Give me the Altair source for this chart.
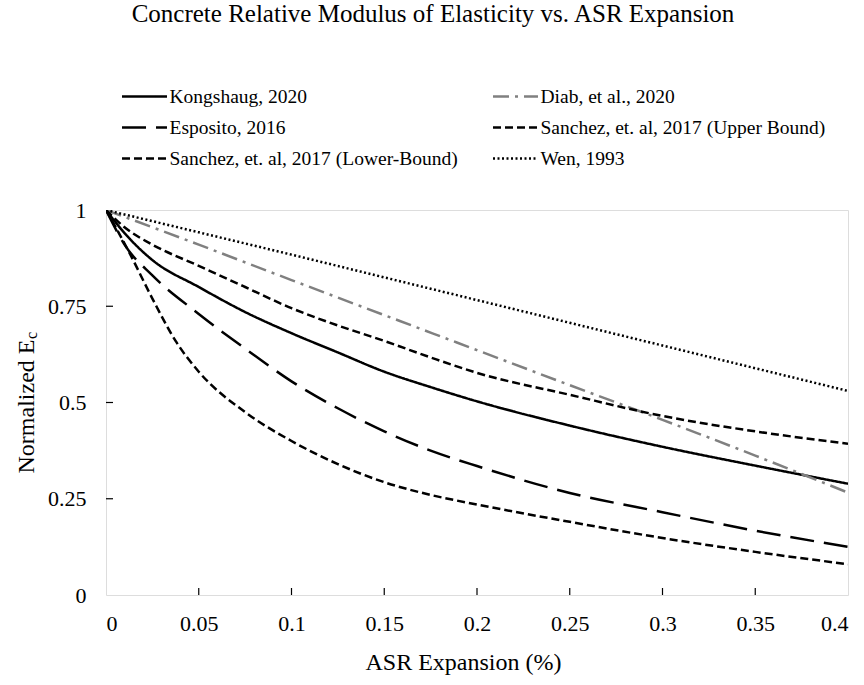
import altair as alt
import pandas as pd

# ---- data ----
kong_x = [0, 0.01, 0.025, 0.05, 0.075, 0.1, 0.125, 0.15, 0.175, 0.2, 0.25, 0.3, 0.35, 0.4]
kong_y = [1, 0.94, 0.87, 0.80, 0.735, 0.68, 0.63, 0.58, 0.54, 0.503, 0.44, 0.385, 0.336, 0.289]

diab_x = [0, 0.05, 0.1, 0.15, 0.2, 0.25, 0.3, 0.35, 0.4]
diab_y = [1, 0.91, 0.818, 0.727, 0.636, 0.545, 0.455, 0.362, 0.266]

espo_x = [0, 0.01, 0.025, 0.05, 0.075, 0.1, 0.125, 0.15, 0.175, 0.2, 0.25, 0.3, 0.35, 0.4]
espo_y = [1, 0.91, 0.83, 0.73, 0.64, 0.555, 0.485, 0.425, 0.375, 0.335, 0.265, 0.215, 0.167, 0.125]

upper_x = [0, 0.01, 0.025, 0.05, 0.075, 0.1, 0.125, 0.15, 0.175, 0.2, 0.25, 0.3, 0.35, 0.4]
upper_y = [1, 0.955, 0.91, 0.855, 0.80, 0.745, 0.70, 0.66, 0.617, 0.577, 0.52, 0.465, 0.425, 0.393]

lower_x = [0, 0.0125, 0.025, 0.0375, 0.05, 0.075, 0.1, 0.125, 0.15, 0.175, 0.2, 0.25, 0.3, 0.35, 0.4]
lower_y = [1, 0.89, 0.77, 0.66, 0.58, 0.475, 0.40, 0.34, 0.293, 0.26, 0.235, 0.19, 0.148, 0.112, 0.08]

wen_x = [0, 0.05, 0.1, 0.15, 0.2, 0.25, 0.3, 0.35, 0.4]
wen_y = [1, 0.942, 0.884, 0.825, 0.766, 0.707, 0.648, 0.589, 0.53]

# legend order (legend grid fills column by column)
names = [
    "Kongshaug, 2020",
    "Esposito, 2016",
    "Sanchez, et. al, 2017 (Lower-Bound)",
    "Diab, et al., 2020",
    "Sanchez, et. al, 2017 (Upper Bound)",
    "Wen, 1993",
]
series_x = [kong_x, espo_x, lower_x, diab_x, upper_x, wen_x]
series_y = [kong_y, espo_y, lower_y, diab_y, upper_y, wen_y]
colors = ["#000000", "#000000", "#000000", "#808080", "#000000", "#000000"]
dashes = [[1, 0], [24, 10], [8, 4], [16, 6, 3, 6], [8, 4], [2, 2.5]]

x_ticks = [0.05, 0.1, 0.15, 0.2, 0.25, 0.3, 0.35]
y_ticks = [0.25, 0.5, 0.75]
x_labels = [0, 0.05, 0.1, 0.15, 0.2, 0.25, 0.3, 0.35, 0.4]
y_labels = [0, 0.25, 0.5, 0.75, 1]

rows = []
for n, xs, ys in zip(names, series_x, series_y):
    for a, b in zip(xs, ys):
        rows.append({"series": n, "x": a, "y": b})
df = pd.DataFrame(rows)

FONT = "Liberation Serif"
W, H = 742, 385

xscale = alt.Scale(domain=[0, 0.4], nice=False, zero=False)
yscale = alt.Scale(domain=[0, 1], nice=False)

lines = alt.Chart(df).mark_line(strokeWidth=2.5, interpolate="monotone", clip=True).encode(
    x=alt.X("x:Q", scale=xscale,
            axis=alt.Axis(values=x_labels, labelExpr="'' + datum.value", tickSize=0, domain=False,
                          grid=False, labelPadding=18, labelFontSize=22, labelFont=FONT,
                          labelColor="black", title="ASR Expansion (%)", titleFont=FONT,
                          titleFontSize=24, titleFontWeight="normal", titleColor="black",
                          titleX=357, titleY=74, titleAlign="center", titleBaseline="alphabetic")),
    y=alt.Y("y:Q", scale=yscale,
            axis=alt.Axis(values=y_labels, labelExpr="'' + datum.value", tickSize=0, domain=False,
                          grid=False, labelPadding=20, labelFontSize=22, labelFont=FONT,
                          labelColor="black", title="Normalized E", titleFont=FONT,
                          titleFontSize=24, titleFontWeight="normal", titleColor="black",
                          titleX=-73, titleY=196, titleAngle=270, titleAlign="center",
                          titleBaseline="alphabetic")),
    color=alt.Color("series:N", scale=alt.Scale(domain=names, range=colors), title=None,
                    legend=alt.Legend(orient="none", legendX=26, legendY=-126, columns=2,
                                      symbolType="M-2,0H2", symbolSize=506, symbolStrokeWidth=2.5,
                                      labelFont=FONT, labelFontSize=19.5, labelColor="black",
                                      labelOffset=12.5, rowPadding=9, columnPadding=30,
                                      labelLimit=400)),
    strokeDash=alt.StrokeDash("series:N", scale=alt.Scale(domain=names, range=dashes), title=None),
    detail="series:N",
)

xt = alt.Chart(pd.DataFrame({"v": x_ticks})).mark_rule(color="black", strokeWidth=1.2).encode(
    x=alt.X("v:Q", scale=xscale), y=alt.value(H), y2=alt.value(H - 7))
yt = alt.Chart(pd.DataFrame({"v": y_ticks})).mark_rule(color="black", strokeWidth=1.2).encode(
    y=alt.Y("v:Q", scale=yscale), x=alt.value(0), x2=alt.value(7))

sub = alt.Chart(pd.DataFrame({"t": ["c"]})).mark_text(
    font=FONT, fontSize=16, angle=270, color="black", align="left", baseline="alphabetic"
).encode(text="t:N", x=alt.value(-69), y=alt.value(129))

chart = alt.layer(lines, xt, yt, sub).properties(
    width=W, height=H,
    title=alt.TitleParams("Concrete Relative Modulus of Elasticity vs. ASR Expansion",
                          font=FONT, fontSize=25, fontWeight="normal", color="black",
                          anchor="middle", offset=57, dx=-44),
    autosize=alt.AutoSizeParams(type="none"),
    padding={"left": 106, "top": 210, "right": 16, "bottom": 90},
).configure_view(stroke="black", strokeWidth=1.5).configure(background="white")

chart.save("out.html", embed_options={"renderer": "svg", "actions": False})
